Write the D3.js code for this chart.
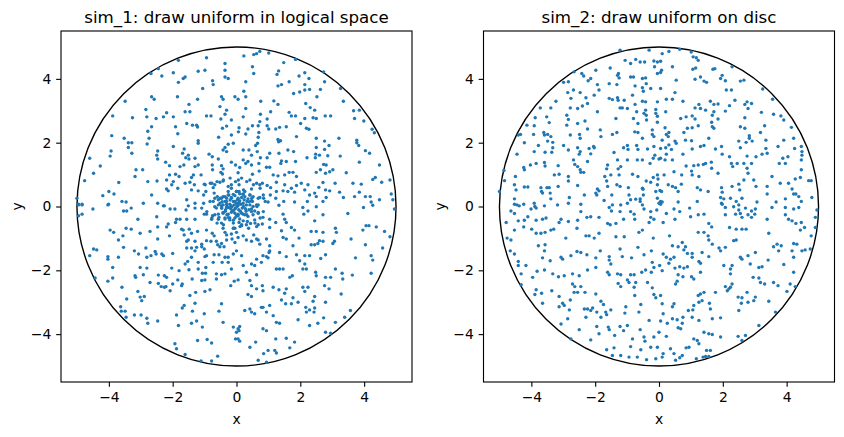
<!DOCTYPE html>
<html>
<head>
<meta charset="utf-8">
<script src="https://cdn.jsdelivr.net/npm/d3@7"></script>
<style>
  body { margin: 0; background: #fff; }
  svg { display: block; }
  text { font-family: "DejaVu Sans", sans-serif; fill: #000; }
</style>
</head>
<body>
<div id="chart"></div>
<script>
// chart values
const titles = ["sim_1: draw uniform in logical space", "sim_2: draw uniform on disc"];
const tickValues = [-4, -2, 0, 2, 4];
const axisDomain = [-5.5, 5.5];
const circleRadius = 5;

// sim_1, one array per quadrant plus the dense core
const sim1UpperLeft = [[-1.82,4.58],[-0.94,4.66],[-0.36,4.48],[-2.45,4.32],[-1.98,4.19],[-1.20,4.24],[-0.99,4.27],[-0.36,4.27],[-0.36,4.06],[-0.26,4.01],[-1.67,4.01],[-1.61,4.06],[-2.34,4.09],[-2.68,4.17],[-1.82,3.89],[-0.75,3.94],[-0.73,3.82],[-1.06,3.70],[-0.47,3.44],[-0.42,3.36],[-0.05,3.44],[-2.66,3.44],[-2.58,3.36],[-1.85,3.44],[-1.22,3.36],[-3.49,3.30],[-1.61,2.97],[-1.46,2.97],[-1.49,3.20],[-2.84,3.04],[-0.52,3.13],[-0.31,3.02],[-2.19,2.94],[-1.98,2.81],[-2.29,2.81],[-2.81,2.81],[-3.26,2.78],[-2.52,2.76],[-3.88,2.84],[-0.94,2.84],[-0.80,2.84],[-0.36,2.89],[-0.49,2.74],[-0.16,2.71],[-1.56,2.60],[-1.38,2.55],[-1.25,2.55],[-1.22,2.49],[-1.91,2.50],[-2.66,2.50],[-0.44,2.45],[-0.31,2.52],[-2.78,2.36],[-1.84,2.28],[-3.91,2.22],[-3.52,2.14],[-2.74,2.14],[-1.20,2.06],[-1.20,1.98],[-0.56,2.17],[-0.16,2.24],[-3.39,2.00],[-3.28,2.00],[-2.80,1.96],[-3.39,1.85],[-0.36,1.85],[-0.42,1.77],[-0.26,1.95],[-0.10,1.98],[-1.98,1.88],[-1.64,1.80],[-3.93,1.74],[-3.96,1.58],[-2.47,1.74],[-2.50,1.61],[-1.69,1.67],[-1.51,1.61],[-0.86,1.64],[-0.76,1.56],[-0.57,1.49],[-0.31,1.72],[-3.28,1.67],[-4.60,1.51],[-2.22,1.39],[-2.47,1.49],[-1.59,1.53],[-1.49,1.49],[-1.30,1.51],[-4.27,1.27],[-4.48,1.04],[-4.76,0.81],[-3.15,1.15],[-3.18,0.94],[-2.94,1.15],[-2.78,0.78],[-2.49,0.80],[-3.69,0.75],[-2.10,1.28],[-1.77,1.25],[-1.65,1.30],[-1.30,1.25],[-1.20,1.30],[-0.76,1.30],[-0.75,1.15],[-0.47,1.28],[-0.42,1.18],[-0.16,1.39],[-0.03,1.30],[-2.10,0.99],[-1.91,1.01],[-1.80,0.94],[-2.19,0.83],[-1.98,0.78],[-1.35,0.99],[-1.41,0.91],[-1.11,0.99],[-0.49,1.07],[-0.44,1.02],[-2.14,0.49],[-2.19,0.55],[-2.03,0.68],[-1.84,0.57],[-1.61,0.73],[-1.46,0.76],[-1.32,0.68],[-1.41,0.52],[-1.01,0.70],[-0.96,0.47],[-0.82,0.73],[-0.73,0.59],[-0.68,0.68],[-0.52,0.76],[-0.42,0.80],[-0.26,0.63],[-0.16,0.68],[-0.03,0.78],[0.00,0.47],[-4.19,0.34],[-4.00,0.47],[-3.84,0.39],[-4.03,0.05],[-3.59,0.16],[-3.46,0.14],[-2.92,0.10],[-2.66,0.36],[-2.29,0.02],[-2.47,0.10],[-1.56,0.21],[-1.30,0.10],[-1.20,0.49],[-0.83,0.16],[-0.68,0.26],[-0.57,0.21],[-0.57,0.05],[-0.42,0.31],[-0.36,0.16],[-0.31,0.07],[-0.24,0.36],[-0.16,0.26],[-0.05,0.16],[-0.70,0.42],[-4.95,0.05],[-4.84,0.05],[-5.00,0.26]];
const sim1UpperRight = [[0.73,4.86],[0.63,4.79],[0.54,4.76],[0.23,4.72],[1.01,4.81],[0.50,4.38],[0.54,4.17],[1.48,4.51],[1.85,4.61],[1.32,4.25],[1.27,4.14],[2.14,4.19],[1.96,4.09],[2.27,4.01],[2.73,4.22],[0.29,3.91],[1.65,3.91],[1.41,3.82],[1.30,3.78],[2.14,3.82],[2.29,3.67],[1.98,3.59],[1.79,3.54],[2.14,3.65],[2.76,3.91],[2.63,3.67],[3.26,3.70],[0.23,3.61],[0.05,3.36],[0.29,3.44],[0.76,3.30],[1.17,3.31],[1.30,3.20],[2.52,3.44],[2.17,3.23],[2.31,3.10],[2.45,3.02],[3.35,3.30],[3.67,3.00],[3.85,3.02],[3.99,2.68],[3.70,2.76],[1.65,2.95],[1.85,2.84],[1.72,2.84],[0.29,3.07],[0.21,2.81],[0.75,2.89],[1.07,2.97],[2.78,2.84],[2.95,2.84],[2.50,2.76],[2.40,2.78],[2.14,2.76],[0.96,2.74],[0.73,2.66],[0.36,2.43],[0.50,2.53],[0.68,2.53],[0.96,2.53],[1.01,2.43],[1.35,2.48],[1.56,2.50],[1.23,2.43],[2.01,2.60],[2.19,2.45],[2.27,2.42],[0.08,2.47],[0.06,2.34],[0.29,2.27],[0.70,2.32],[0.68,2.17],[1.88,2.19],[1.30,2.10],[1.38,2.06],[1.32,2.03],[2.50,2.14],[2.76,2.05],[3.21,2.14],[3.77,2.08],[3.77,2.00],[3.83,1.91],[4.25,2.42],[4.32,2.31],[0.66,1.98],[0.60,1.91],[0.39,1.77],[0.21,1.77],[0.65,1.72],[1.04,1.67],[1.33,1.67],[1.61,1.77],[1.79,1.72],[2.50,1.85],[2.76,1.79],[2.90,1.91],[2.21,1.53],[2.47,1.53],[2.48,1.64],[2.60,1.61],[2.86,1.59],[3.25,1.58],[4.04,1.75],[4.17,1.67],[0.47,1.61],[0.21,1.46],[0.36,1.41],[0.29,1.35],[0.47,1.30],[0.70,1.35],[0.75,1.53],[0.96,1.53],[0.94,1.23],[1.04,1.23],[1.41,1.43],[1.39,1.35],[1.56,1.41],[1.85,1.41],[2.73,1.32],[2.81,1.30],[3.02,1.15],[3.44,1.06],[3.85,1.39],[4.48,1.30],[0.10,1.22],[0.05,1.06],[0.50,1.01],[0.71,1.11],[1.15,0.99],[1.30,0.96],[1.51,0.99],[1.65,1.07],[1.77,1.07],[1.88,0.94],[2.50,1.07],[2.63,1.15],[2.79,1.04],[2.92,1.09],[3.09,0.73],[2.71,0.75],[0.16,0.89],[0.42,0.83],[0.63,0.73],[0.73,0.68],[0.81,0.73],[0.96,0.66],[1.07,0.59],[1.25,0.76],[1.51,0.68],[1.88,0.66],[1.82,0.45],[2.03,0.73],[2.14,0.52],[2.24,0.68],[2.29,0.36],[2.45,0.42],[2.50,0.31],[2.58,0.60],[2.79,0.52],[2.92,0.49],[3.23,0.45],[3.65,0.73],[3.91,0.70],[4.27,0.85],[4.35,0.91],[4.55,0.76],[4.81,0.83],[4.85,0.39],[4.90,0.21],[4.19,0.31],[4.48,0.21],[3.85,0.45],[3.70,0.31],[4.04,0.31],[4.22,0.14],[3.35,0.28],[2.81,0.28],[2.71,0.16],[2.22,0.16],[1.82,0.14],[1.48,0.16],[1.23,0.26],[1.06,0.36],[0.99,0.14],[0.85,0.26],[0.68,0.26],[0.52,0.31],[0.42,0.36],[0.21,0.39],[0.33,0.16],[0.50,0.16],[0.63,0.05],[0.08,0.68],[0.08,0.47],[1.46,0.49],[1.61,0.47],[1.25,0.47],[1.72,0.57]];
const sim1LowerLeft = [[-4.95,0.07],[-4.84,0.07],[-4.01,0.07],[-4.50,-0.08],[-3.54,-0.14],[-3.44,-0.14],[-3.30,-0.05],[-2.26,0.02],[-2.08,-0.08],[-1.93,-0.08],[-1.51,0.02],[-1.58,-0.11],[-1.30,-0.05],[-1.09,-0.05],[-0.68,-0.01],[-0.47,0.02],[-0.31,-0.03],[-0.16,0.02],[-0.05,-0.08],[-4.95,-0.29],[-4.84,-0.24],[-3.09,-0.40],[-2.50,-0.32],[-1.88,-0.40],[-1.77,-0.40],[-1.56,-0.40],[-1.30,-0.40],[-1.01,-0.24],[-0.94,-0.24],[-0.75,-0.29],[-0.57,-0.24],[-0.42,-0.19],[-0.26,-0.24],[-0.10,-0.14],[0.00,-0.29],[-0.78,-0.40],[-0.57,-0.40],[-0.36,-0.36],[-0.21,-0.36],[-0.10,-0.43],[-3.96,-0.74],[-3.85,-0.81],[-3.46,-0.68],[-3.30,-0.71],[-3.56,-0.92],[-3.70,-1.05],[-3.02,-0.84],[-2.71,-0.78],[-2.47,-0.64],[-2.19,-0.64],[-2.14,-0.55],[-1.91,-0.50],[-1.72,-0.71],[-1.67,-0.74],[-1.48,-0.71],[-1.64,-0.89],[-1.41,-0.84],[-1.22,-0.78],[-0.94,-0.74],[-0.76,-0.84],[-0.70,-0.92],[-0.42,-0.68],[-0.10,-0.68],[-0.36,-0.81],[-0.31,-0.89],[-0.16,-0.86],[0.00,-0.81],[-2.47,-1.02],[-2.10,-0.92],[-1.56,-1.09],[-1.51,-1.05],[-1.30,-1.09],[-1.09,-1.18],[-0.94,-1.07],[-0.80,-1.09],[-0.63,-1.09],[-0.59,-1.20],[-0.52,-1.26],[-0.47,-1.16],[-0.39,-1.26],[-0.31,-1.05],[-0.14,-1.02],[-0.05,-1.13],[-4.48,-1.33],[-4.38,-1.36],[-4.60,-1.54],[-4.03,-1.57],[-4.03,-1.65],[-3.70,-1.59],[-3.54,-1.28],[-3.20,-1.39],[-3.07,-1.49],[-2.84,-1.30],[-2.81,-1.59],[-2.68,-1.54],[-2.55,-1.41],[-2.52,-1.49],[-2.34,-1.49],[-2.29,-1.54],[-2.00,-1.47],[-1.56,-1.30],[-1.41,-1.30],[-1.30,-1.39],[-1.25,-1.28],[-1.09,-1.26],[-1.01,-1.33],[-1.41,-1.59],[-0.99,-1.57],[-0.94,-1.54],[-0.70,-1.51],[-0.55,-1.51],[-0.36,-1.59],[-0.26,-1.59],[-0.10,-1.49],[0.00,-1.39],[-0.26,-1.75],[-0.45,-1.75],[-0.73,-1.75],[-1.20,-1.75],[-1.53,-1.72],[-1.61,-1.80],[-3.88,-1.91],[-2.81,-1.93],[-3.02,-1.91],[-2.45,-2.15],[-2.26,-2.17],[-2.19,-2.22],[-2.03,-1.93],[-1.80,-2.01],[-1.49,-1.98],[-1.20,-1.96],[-1.07,-2.09],[-0.97,-2.09],[-0.96,-1.91],[-0.63,-2.11],[-0.47,-2.14],[-0.36,-2.11],[-0.16,-1.96],[-4.43,-2.24],[-4.03,-2.34],[-3.88,-2.24],[-3.18,-2.17],[-3.16,-2.22],[-2.92,-2.14],[-2.71,-2.38],[-2.45,-2.41],[-2.36,-2.51],[-2.21,-2.51],[-2.00,-2.43],[-1.84,-2.30],[-1.70,-2.43],[-1.72,-2.48],[-1.39,-2.27],[-1.09,-2.32],[-0.99,-2.30],[-0.63,-2.27],[-0.18,-2.48],[-0.07,-2.34],[-3.59,-2.53],[-3.09,-2.66],[-3.02,-2.84],[-2.89,-2.82],[-2.97,-2.95],[-3.44,-2.90],[-2.26,-2.53],[-2.08,-2.64],[-1.46,-2.79],[-1.28,-2.69],[-0.99,-2.66],[-0.83,-2.61],[-3.63,-3.14],[-3.61,-3.28],[-3.49,-3.28],[-3.46,-3.47],[-3.20,-3.40],[-2.99,-3.40],[-2.81,-3.50],[-2.78,-3.66],[-2.47,-3.59],[-1.88,-3.40],[-1.70,-3.18],[-1.64,-3.10],[-1.38,-3.28],[-1.30,-3.03],[-1.01,-3.36],[-0.55,-3.28],[-0.47,-3.05],[-1.82,-3.73],[-1.41,-3.66],[-1.25,-3.59],[-1.07,-3.78],[-0.42,-3.63],[-0.10,-3.78],[0.00,-3.94],[-0.03,-4.15],[-1.22,-4.20],[-0.92,-4.17],[-0.78,-4.28],[-1.93,-4.30],[-1.88,-4.46],[-1.61,-4.64],[-1.11,-4.84],[-0.78,-4.84],[-0.59,-4.69]];
const sim1LowerRight = [[1.33,0.04],[2.08,-0.03],[2.24,-0.14],[2.50,-0.01],[3.49,-0.22],[3.98,-0.03],[4.27,0.04],[4.95,-0.08],[0.05,-0.29],[0.21,-0.24],[0.47,-0.08],[0.57,-0.14],[0.68,-0.19],[0.83,-0.34],[1.04,-0.40],[1.23,-0.50],[1.46,-0.24],[1.51,-0.40],[1.56,-0.50],[2.11,-0.24],[2.45,-0.45],[2.71,-0.26],[0.08,-0.50],[0.16,-0.60],[0.31,-0.57],[0.44,-0.53],[0.68,-0.57],[0.81,-0.55],[1.04,-0.66],[1.41,-0.76],[1.46,-0.97],[1.56,-1.02],[1.72,-0.66],[1.82,-0.74],[1.96,-0.99],[2.34,-0.78],[2.50,-0.78],[2.71,-0.81],[3.10,-0.68],[3.13,-0.81],[3.02,-1.16],[3.07,-1.09],[2.60,-1.07],[2.34,-1.20],[2.45,-1.20],[2.55,-1.16],[2.71,-1.09],[3.59,-1.02],[3.96,-0.74],[4.06,-0.60],[4.15,-0.60],[4.38,-0.64],[4.64,-0.78],[4.81,-0.95],[4.04,-1.20],[4.58,-1.30],[0.05,-0.97],[0.21,-0.92],[0.31,-1.05],[0.47,-1.09],[0.54,-0.89],[0.63,-1.02],[0.68,-1.05],[0.73,-1.18],[0.94,-1.02],[1.04,-1.23],[1.02,-1.44],[1.35,-1.44],[1.56,-1.57],[1.77,-1.23],[1.88,-1.51],[1.98,-1.70],[2.14,-1.54],[2.29,-1.54],[2.64,-1.63],[2.79,-1.51],[1.04,-1.39],[0.83,-1.54],[0.94,-1.57],[0.99,-1.61],[0.16,-1.54],[0.21,-1.85],[0.47,-1.80],[0.57,-1.85],[0.63,-1.65],[0.78,-1.75],[0.63,-2.14],[0.31,-2.06],[0.05,-2.30],[0.42,-2.32],[0.47,-2.48],[0.63,-2.58],[0.81,-2.48],[0.83,-2.64],[0.36,-2.76],[0.47,-2.82],[1.25,-1.96],[1.35,-1.96],[1.46,-1.96],[1.67,-2.22],[1.75,-2.17],[2.14,-1.80],[2.08,-1.96],[2.19,-1.96],[2.48,-2.06],[2.50,-2.17],[2.79,-2.22],[2.95,-2.22],[3.10,-1.96],[3.31,-2.09],[3.33,-2.27],[3.63,-2.15],[3.73,-1.61],[4.22,-1.54],[4.27,-1.68],[4.22,-2.09],[1.15,-2.53],[1.33,-2.61],[1.56,-2.58],[1.51,-2.72],[1.41,-2.93],[1.54,-3.05],[1.77,-2.86],[1.93,-3.00],[1.72,-3.05],[2.08,-2.53],[2.14,-2.66],[2.24,-2.53],[2.45,-2.82],[2.40,-2.97],[2.76,-2.48],[2.79,-3.00],[2.90,-2.58],[3.28,-2.74],[0.26,-3.26],[0.42,-3.21],[0.47,-3.31],[0.57,-3.36],[0.78,-3.16],[0.83,-3.16],[0.94,-3.31],[1.04,-3.10],[0.83,-3.83],[1.15,-3.42],[1.25,-3.63],[1.35,-3.66],[2.17,-3.16],[2.19,-3.31],[2.29,-3.24],[2.45,-3.18],[2.43,-3.31],[2.55,-3.66],[2.73,-3.49],[3.10,-3.63],[3.39,-3.47],[3.57,-3.26],[2.29,-3.73],[1.93,-3.55],[0.05,-3.83],[0.10,-3.76],[0.08,-3.89],[0.05,-4.15],[0.10,-4.22],[0.42,-4.41],[0.60,-4.25],[0.94,-3.89],[1.23,-4.15],[1.56,-4.13],[1.82,-4.25],[1.67,-4.43],[1.20,-4.51],[1.25,-4.59],[0.99,-4.51],[0.85,-4.61],[0.68,-4.82],[0.94,-4.88],[2.79,-3.94],[2.95,-3.97]];
const sim1Core = [[-0.47,0.26],[-0.36,0.31],[-0.26,0.36],[-0.16,0.28],[-0.05,0.34],[0.05,0.26],[0.16,0.28],[0.26,0.31],[0.36,0.24],[0.47,0.18],[-0.52,0.10],[-0.42,0.05],[-0.31,0.16],[-0.21,0.07],[-0.10,0.16],[0.00,0.10],[0.05,0.03],[0.10,0.18],[0.21,0.10],[0.31,0.05],[0.42,0.05],[0.52,0.00],[-0.47,-0.05],[-0.34,-0.10],[-0.24,-0.03],[-0.14,0.00],[-0.03,-0.05],[0.07,-0.10],[0.18,-0.05],[0.28,-0.07],[0.39,-0.10],[0.47,-0.16],[-0.42,-0.21],[-0.28,-0.26],[-0.16,-0.18],[-0.05,-0.21],[0.05,-0.24],[0.16,-0.21],[0.26,-0.26],[0.36,-0.31],[0.52,-0.26],[-0.36,-0.39],[-0.21,-0.42],[-0.05,-0.36],[0.10,-0.39],[0.21,-0.45],[0.34,-0.47],[-0.55,-0.34],[0.57,-0.42],[-0.26,0.47],[0.00,0.47],[0.26,0.47],[-0.63,-0.05],[0.68,0.05],[-0.10,-0.52],[0.16,-0.57],[0.02,0.00],[-0.07,0.05],[0.14,0.07],[0.03,0.21],[-0.18,-0.07],[0.24,0.21],[-0.31,0.26],[0.42,0.36],[-0.47,-0.52],[0.68,-0.21],[-0.60,0.31],[-0.73,0.16],[0.73,0.28],[-0.16,0.57],[0.47,0.55],[-0.68,-0.26],[0.63,-0.63],[-0.05,-0.68],[0.08,0.12],[-0.12,-0.12],[0.12,-0.15],[-0.20,0.20],[0.30,-0.15],[-0.35,-0.15],[0.10,0.40],[-0.10,0.38],[0.22,0.00],[-0.30,0.00],[0.00,-0.30],[0.40,0.15],[-0.45,0.15],[0.20,0.38],[-0.25,-0.35],[-0.98,0.68],[-0.77,0.73],[-0.61,0.78],[-0.41,0.83],[-0.20,0.89],[0.06,0.83],[0.32,0.78],[0.53,0.68],[0.74,0.57],[0.84,0.36],[0.90,0.16],[0.84,-0.16],[0.74,-0.36],[0.58,-0.52],[0.38,-0.68],[0.11,-0.63],[-0.09,-0.68],[-0.41,-0.57],[-0.61,-0.52],[-0.77,-0.36],[-0.93,-0.16],[-1.03,0.10],[-1.03,0.36],[-0.51,0.26],[0.48,0.26],[0.32,-0.26],[-0.30,-0.26],[-0.46,-0.05],[0.64,0.00],[0.22,0.52]];

// sim_2, one array per quadrant
const sim2UpperLeft = [[-1.22,4.90],[-0.31,4.90],[-1.06,4.58],[-0.89,4.48],[-0.73,4.61],[-0.59,4.53],[-0.45,4.53],[-0.16,4.56],[-0.05,4.53],[-0.14,4.38],[-1.53,4.34],[-1.30,4.11],[-1.25,4.03],[-1.27,4.17],[-0.89,4.06],[-0.80,4.06],[-0.52,4.01],[-0.40,3.85],[-0.42,4.03],[-0.05,4.17],[-2.66,4.22],[-2.42,4.17],[-2.36,4.09],[-1.98,4.27],[-2.22,3.94],[-2.14,4.01],[-2.99,3.89],[-2.84,3.91],[-1.56,3.85],[-1.32,3.82],[-0.75,3.78],[-0.52,3.72],[-0.49,3.61],[-0.26,3.70],[-1.93,3.82],[-1.88,3.65],[-2.68,3.65],[-2.86,3.57],[-2.47,3.57],[-3.23,3.30],[-2.76,3.39],[-2.29,3.41],[-2.03,3.49],[-1.56,3.39],[-1.46,3.35],[-1.30,3.41],[-1.28,3.33],[-1.09,3.33],[-0.83,3.49],[-0.52,3.30],[-0.42,3.28],[-0.05,3.28],[-0.75,3.20],[-3.72,3.09],[-3.39,3.09],[-2.78,3.09],[-2.55,3.07],[-2.24,3.23],[-2.40,3.15],[-1.93,2.97],[-1.22,3.09],[-1.15,3.09],[-0.99,3.07],[-0.70,2.97],[-0.42,3.02],[-0.10,3.04],[-0.47,2.92],[-0.40,2.86],[-0.10,2.92],[-0.05,2.83],[-0.39,2.71],[-3.88,2.78],[-3.52,2.81],[-2.89,2.86],[-2.84,2.73],[-2.32,2.68],[-1.35,2.76],[-0.80,2.76],[-0.66,2.60],[-0.05,2.64],[-3.44,2.63],[-4.14,2.55],[-3.91,2.53],[-2.89,2.55],[-2.55,2.60],[-2.24,2.43],[-1.84,2.40],[-1.32,2.32],[-0.76,2.34],[-0.66,2.32],[-0.21,2.40],[-0.16,2.19],[-0.21,2.26],[-4.34,2.26],[-4.41,2.24],[-3.93,2.26],[-3.61,2.32],[-3.59,2.24],[-3.49,2.26],[-3.39,2.19],[-2.78,2.24],[-2.49,2.26],[-2.47,2.14],[-1.82,2.19],[-1.46,2.26],[-0.52,2.14],[-0.70,1.91],[-4.22,2.00],[-3.78,1.91],[-3.49,2.05],[-3.33,2.01],[-3.33,1.84],[-2.99,1.91],[-2.55,1.84],[-2.47,1.72],[-2.50,1.64],[-2.19,1.82],[-2.05,1.88],[-2.03,1.84],[-2.14,1.65],[-2.84,1.77],[-3.36,1.70],[-3.57,1.70],[-3.91,1.72],[-4.45,1.64],[-1.41,1.69],[-1.11,1.84],[-0.99,1.91],[-0.97,1.79],[-0.66,1.79],[-0.36,1.80],[-0.16,1.88],[-0.13,1.61],[-4.03,1.30],[-3.85,1.35],[-3.59,1.38],[-3.57,1.27],[-3.16,1.28],[-2.68,1.46],[-2.64,1.32],[-2.47,1.15],[-2.36,1.07],[-2.24,1.41],[-2.55,1.25],[-1.61,1.30],[-1.64,1.18],[-1.30,1.46],[-1.20,1.25],[-0.99,1.46],[-0.68,1.46],[-0.52,1.46],[-0.18,1.51],[0.00,1.49],[-0.28,1.35],[-4.24,1.22],[-4.22,1.15],[-4.50,0.94],[-4.84,0.81],[-4.86,1.13],[-3.28,0.99],[-3.13,1.01],[-2.84,0.94],[-2.84,0.80],[-2.45,1.07],[-1.70,0.94],[-1.64,0.80],[-1.51,0.99],[-1.28,1.18],[-1.25,0.99],[-0.83,1.01],[-0.66,0.94],[-0.40,0.80],[-0.26,0.76],[-0.05,0.99],[-0.03,0.86],[-0.18,0.91],[-0.05,0.68],[0.03,0.50],[-4.53,0.68],[-4.22,0.61],[-4.11,0.61],[-3.70,0.59],[-3.51,0.59],[-3.44,0.59],[-3.16,0.63],[-2.55,0.66],[-1.93,0.55],[-1.88,0.49],[-1.61,0.63],[-1.32,0.68],[-1.22,0.63],[-0.96,0.59],[-0.52,0.57],[-0.50,0.54],[-0.10,0.47],[-4.53,0.24],[-4.53,0.07],[-4.45,0.05],[-5.00,0.47],[-4.48,0.52],[-3.68,0.47],[-3.65,0.42],[-3.41,0.42],[-3.39,0.24],[-2.81,0.28],[-2.84,0.10],[-3.91,0.10],[-3.89,0.00],[-3.18,0.05],[-2.34,0.36],[-1.98,0.42],[-1.95,0.36],[-1.72,0.19],[-1.48,0.36],[-0.94,0.36],[-0.89,0.21],[-0.73,0.23],[-0.59,0.24],[-0.49,0.36],[-0.52,0.05],[-0.59,0.16],[-1.46,0.05],[-1.20,0.05],[-0.99,0.10],[-0.05,0.26],[0.00,0.10]];
const sim2UpperRight = [[0.10,4.79],[0.31,4.86],[0.65,4.93],[1.01,4.84],[1.07,4.69],[1.17,4.66],[1.23,4.58],[0.05,4.55],[0.42,4.38],[0.08,4.27],[0.05,4.20],[1.06,4.30],[1.15,4.34],[1.69,4.30],[1.75,4.32],[2.29,4.38],[1.93,4.01],[1.98,4.11],[2.08,3.94],[2.55,3.93],[2.66,3.96],[3.25,3.68],[3.56,3.36],[1.13,3.99],[1.30,4.06],[1.41,3.93],[1.49,3.89],[0.54,3.96],[0.05,3.70],[0.50,3.57],[0.23,3.36],[0.42,3.36],[0.75,3.30],[1.25,3.20],[1.13,3.09],[1.30,3.07],[1.61,3.30],[1.72,3.20],[1.85,3.21],[2.21,3.16],[2.38,3.33],[2.69,3.20],[2.76,3.28],[2.90,3.23],[2.79,3.07],[2.11,3.65],[2.27,3.65],[0.21,2.97],[0.68,2.76],[0.85,2.81],[1.04,2.84],[1.13,2.74],[1.46,3.02],[1.72,2.97],[1.67,2.86],[1.85,2.74],[1.65,2.64],[1.67,2.50],[1.72,2.45],[2.08,2.99],[2.69,2.78],[3.21,2.95],[3.59,2.89],[3.82,2.84],[3.91,2.71],[0.19,2.47],[0.78,2.32],[0.89,2.45],[1.04,2.47],[1.23,2.53],[1.56,2.14],[2.55,2.50],[2.69,2.45],[3.18,2.32],[3.31,2.53],[4.15,2.48],[4.22,2.14],[3.91,2.08],[0.10,2.08],[0.23,2.26],[0.31,2.32],[0.29,2.19],[0.31,1.93],[0.21,1.84],[0.39,1.79],[0.50,2.05],[0.05,1.82],[0.05,1.51],[0.23,1.64],[1.02,2.06],[1.41,1.91],[1.77,1.80],[1.96,1.88],[1.98,1.64],[2.21,1.56],[2.50,2.05],[2.73,2.01],[2.83,2.22],[2.83,2.14],[2.92,2.05],[2.55,1.84],[2.76,1.58],[3.04,1.56],[3.23,1.64],[3.39,1.67],[3.35,1.82],[3.35,2.08],[3.73,1.88],[4.25,1.82],[4.46,1.88],[4.48,1.72],[4.48,1.61],[3.88,1.51],[4.04,1.56],[3.77,1.35],[3.96,1.35],[4.46,1.46],[0.85,1.27],[1.09,1.28],[1.23,1.30],[1.39,1.32],[1.46,1.35],[1.64,1.39],[1.65,1.20],[1.85,1.04],[2.27,1.35],[2.31,1.25],[2.45,1.35],[2.66,1.35],[2.76,1.20],[2.90,1.35],[2.79,1.04],[3.54,0.94],[4.46,1.15],[4.27,0.86],[4.43,0.91],[4.69,0.81],[4.77,0.81],[0.16,0.99],[0.71,0.99],[1.02,1.11],[1.04,0.99],[1.25,0.94],[0.08,0.47],[0.29,0.68],[0.42,0.63],[0.52,0.59],[0.60,0.47],[0.70,0.70],[1.20,0.59],[1.30,0.52],[1.54,0.47],[1.96,0.59],[1.98,0.45],[2.29,0.63],[2.50,0.70],[2.53,0.52],[2.66,0.83],[2.97,0.83],[3.04,0.63],[3.39,0.63],[3.39,0.39],[3.80,0.73],[4.06,0.73],[4.17,0.55],[4.22,0.39],[4.29,0.39],[4.79,0.28],[0.05,0.16],[0.10,0.14],[0.60,0.14],[1.20,0.16],[1.93,0.28],[2.03,0.24],[1.96,0.10],[2.24,0.26],[2.42,0.16],[2.50,0.05],[2.60,0.26],[3.07,0.14],[3.67,0.14],[3.96,0.24],[4.38,0.31],[4.46,0.16],[0.19,1.46],[0.42,1.46],[0.75,1.64],[1.04,1.80],[1.30,1.88],[0.54,1.98],[0.83,2.08],[0.47,1.09]];
const sim2LowerLeft = [[-4.64,-0.14],[-4.53,-0.22],[-4.38,0.02],[-4.24,0.07],[-4.01,-0.08],[-3.85,-0.05],[-3.59,0.02],[-2.45,0.07],[-1.56,-0.03],[-1.49,-0.14],[-1.22,-0.16],[-0.89,-0.16],[-0.76,-0.40],[-0.47,-0.08],[-0.26,-0.16],[-0.07,-0.11],[-0.16,-0.40],[-0.26,-0.34],[-4.79,-0.50],[-4.41,-0.45],[-4.22,-0.43],[-4.11,-0.32],[-3.85,-0.43],[-3.65,-0.40],[-3.54,-0.36],[-3.07,-0.40],[-2.84,-0.47],[-3.13,-0.50],[-2.55,-0.43],[-2.45,-0.16],[-2.26,-0.34],[-2.14,-0.32],[-1.88,-0.34],[-1.61,-0.53],[-1.53,-0.57],[-1.35,-0.53],[-1.11,-0.40],[-0.78,-0.24],[-0.31,-0.50],[-4.53,-0.74],[-4.24,-0.64],[-3.99,-0.71],[-3.85,-0.84],[-3.70,-0.84],[-3.57,-0.81],[-3.39,-0.74],[-3.30,-0.71],[-2.92,-0.99],[-2.57,-0.68],[-2.29,-0.92],[-2.19,-0.92],[-2.03,-0.99],[-1.88,-0.84],[-1.35,-0.95],[-1.09,-0.95],[-0.63,-0.81],[-0.52,-0.74],[-0.18,-0.99],[-4.76,-0.99],[-4.64,-1.05],[-4.66,-1.39],[-4.53,-1.49],[-3.78,-1.23],[-3.57,-1.20],[-3.59,-1.39],[-3.65,-1.61],[-3.41,-1.70],[-3.07,-1.59],[-3.02,-1.65],[-2.76,-1.54],[-2.57,-1.41],[-2.45,-1.44],[-2.26,-1.51],[-1.98,-1.61],[-1.84,-1.39],[-1.56,-1.57],[-1.56,-1.68],[-1.51,-1.80],[-1.22,-1.33],[-1.15,-1.57],[-0.86,-1.61],[-0.66,-1.28],[-0.47,-1.51],[-0.24,-1.39],[-0.21,-1.75],[-0.16,-1.91],[-0.24,-2.06],[-4.41,-1.72],[-4.41,-1.85],[-4.32,-2.11],[-4.17,-1.85],[-3.96,-2.22],[-3.82,-2.03],[-3.59,-1.99],[-3.33,-2.11],[-3.15,-2.20],[-2.97,-2.17],[-2.71,-2.11],[-2.50,-2.17],[-2.24,-1.99],[-1.98,-1.91],[-1.61,-2.06],[-1.56,-2.14],[-1.30,-2.11],[-1.20,-2.14],[-0.89,-2.14],[-0.78,-2.14],[-0.54,-2.06],[-0.42,-1.99],[-0.99,-2.30],[-0.94,-2.38],[-0.73,-2.38],[-0.36,-2.38],[-0.21,-2.55],[-4.32,-2.45],[-3.85,-2.61],[-3.89,-2.76],[-3.68,-2.72],[-3.65,-3.03],[-3.36,-2.64],[-3.13,-2.82],[-3.02,-3.03],[-2.97,-3.10],[-2.78,-2.93],[-2.71,-2.43],[-2.64,-2.51],[-2.66,-2.69],[-2.55,-2.69],[-2.45,-2.51],[-2.32,-2.69],[-1.98,-2.74],[-1.82,-2.97],[-1.74,-3.07],[-2.08,-3.18],[-2.34,-3.21],[-2.24,-3.21],[-2.14,-3.26],[-2.81,-3.24],[-3.13,-3.14],[-2.86,-3.52],[-2.29,-3.47],[-1.95,-3.31],[-1.67,-3.31],[-1.64,-3.39],[-1.82,-3.47],[-1.51,-3.24],[-1.28,-2.41],[-1.20,-2.51],[-0.78,-2.53],[-0.76,-2.79],[-0.57,-3.07],[-0.16,-2.76],[-0.10,-2.86],[-1.04,-3.14],[-1.07,-3.34],[-0.99,-3.73],[-0.63,-3.31],[-0.31,-3.57],[-3.07,-3.68],[-2.50,-3.86],[-1.95,-3.76],[-1.59,-3.78],[-1.56,-3.86],[-1.39,-4.04],[-1.22,-3.76],[-1.11,-3.89],[-0.83,-4.15],[-0.89,-4.39],[-0.59,-3.86],[-0.47,-4.09],[-0.44,-4.22],[-0.16,-4.09],[-0.05,-4.41],[-0.26,-4.41],[-0.57,-4.49],[-1.41,-4.43],[-1.64,-4.49],[-1.46,-4.67],[-1.20,-4.67],[-0.94,-4.72],[-0.68,-4.72],[-0.39,-4.80],[-0.10,-4.77],[-2.76,-4.15],[-2.14,-4.18],[-1.88,-3.99]];
const sim2LowerRight = [[0.05,0.07],[0.47,-0.08],[0.65,-0.16],[0.96,-0.05],[1.98,0.07],[2.08,-0.03],[2.34,-0.01],[2.50,-0.11],[2.71,-0.05],[2.90,-0.14],[3.02,-0.08],[3.54,-0.03],[3.96,-0.03],[4.22,-0.08],[4.38,-0.03],[0.23,-0.22],[0.99,-0.32],[1.23,-0.26],[1.41,-0.24],[2.08,-0.26],[2.40,-0.24],[2.55,-0.22],[2.60,-0.34],[2.79,-0.26],[2.90,-0.34],[3.00,-0.24],[3.39,-0.40],[3.96,-0.26],[4.06,-0.40],[4.17,-0.45],[4.46,-0.50],[4.90,-0.34],[4.95,-0.11],[0.13,-0.50],[0.50,-0.40],[1.56,-0.53],[1.65,-0.64],[2.21,-0.66],[2.42,-0.71],[2.60,-0.71],[2.73,-0.71],[3.44,-0.84],[4.29,-0.53],[4.43,-0.74],[4.56,-0.66],[4.90,-0.66],[1.23,-0.81],[1.41,-0.81],[1.54,-0.92],[1.56,-1.05],[1.67,-1.18],[1.35,-1.44],[0.33,-0.92],[0.73,-1.13],[0.83,-1.26],[1.04,-1.47],[0.89,-1.47],[1.04,-1.59],[0.42,-1.23],[0.60,-1.26],[0.78,-1.36],[0.13,-1.49],[0.23,-1.59],[0.36,-1.65],[0.47,-1.59],[1.25,-1.72],[1.30,-1.78],[1.56,-1.57],[1.88,-1.30],[1.93,-1.39],[2.08,-1.28],[2.34,-1.07],[2.42,-1.05],[2.55,-1.59],[2.60,-1.65],[2.79,-1.54],[2.86,-1.80],[3.02,-1.44],[3.13,-1.91],[3.23,-1.89],[3.42,-1.68],[3.59,-1.26],[3.70,-1.18],[3.83,-1.23],[3.75,-1.39],[3.91,-1.82],[4.22,-1.59],[4.22,-2.06],[4.22,-1.16],[4.32,-1.18],[4.17,-1.39],[4.48,-1.39],[4.58,-1.36],[4.74,-1.33],[4.77,-0.92],[0.50,-1.93],[0.65,-1.89],[0.78,-1.93],[0.89,-1.89],[0.02,-1.85],[0.10,-2.01],[0.31,-1.78],[0.60,-2.14],[0.57,-2.34],[0.52,-2.43],[0.75,-2.20],[1.02,-2.20],[1.09,-2.27],[1.30,-2.06],[1.30,-2.74],[1.41,-2.69],[1.35,-2.95],[1.25,-3.00],[1.23,-2.79],[1.58,-3.03],[1.77,-2.69],[2.03,-1.85],[2.24,-1.96],[2.24,-2.11],[2.29,-1.85],[2.08,-2.51],[2.14,-2.64],[2.19,-2.58],[2.24,-2.53],[2.29,-2.43],[2.48,-2.84],[2.60,-2.86],[2.58,-3.03],[2.50,-3.26],[2.76,-2.69],[2.79,-3.00],[2.95,-2.22],[3.02,-2.84],[2.97,-2.95],[3.13,-2.24],[3.18,-2.38],[3.31,-2.43],[3.44,-2.97],[3.59,-2.38],[3.73,-2.48],[4.01,-2.66],[4.11,-2.43],[4.27,-2.51],[3.65,-3.31],[3.13,-3.73],[2.71,-4.04],[2.60,-4.20],[2.48,-4.07],[1.93,-3.49],[1.61,-3.21],[1.67,-3.52],[1.93,-4.09],[1.41,-3.94],[1.56,-3.99],[1.67,-4.01],[1.25,-4.30],[1.09,-4.15],[1.20,-4.20],[0.94,-4.41],[0.85,-4.43],[1.49,-4.51],[1.61,-4.51],[1.46,-4.70],[1.56,-4.70],[0.05,-2.79],[0.10,-3.05],[0.13,-3.36],[0.05,-3.59],[0.26,-3.66],[0.42,-3.52],[0.57,-3.55],[0.60,-3.80],[0.68,-3.83],[0.73,-3.66],[0.75,-3.47],[0.47,-3.05],[0.42,-3.14],[0.92,-3.26],[1.06,-3.24],[1.09,-3.10],[0.00,-3.94],[0.23,-4.07],[0.36,-4.46],[0.13,-4.61],[0.47,-4.61],[0.52,-4.82],[0.65,-4.74],[0.73,-4.67],[1.17,-4.77],[1.38,-4.72],[0.10,-4.72],[1.04,-3.47],[1.25,-3.57]];

const panels = [
  {title: titles[0], points: [].concat(sim1UpperLeft, sim1UpperRight, sim1LowerLeft, sim1LowerRight, sim1Core)},
  {title: titles[1], points: [].concat(sim2UpperLeft, sim2UpperRight, sim2LowerLeft, sim2LowerRight)}
];

const width = 844, height = 437;
const plotTop = 31, plotSize = 351;
const plotLefts = [61, 483.5];
const px = 100 / 72; // matplotlib points to pixels at 100 dpi
const dotColor = "#1f77b4";

const svg = d3.select("#chart").append("svg")
  .attr("width", width)
  .attr("height", height);

const fmt = d => d < 0 ? "\u2212" + Math.abs(d) : String(d);

panels.forEach((panel, i) => {
  const left = plotLefts[i];
  const x = d3.scaleLinear().domain(axisDomain).range([left, left + plotSize]);
  const y = d3.scaleLinear().domain(axisDomain).range([plotTop + plotSize, plotTop]);
  const g = svg.append("g");

  // boundary circle
  g.append("circle")
    .attr("cx", x(0))
    .attr("cy", y(0))
    .attr("r", x(circleRadius) - x(0))
    .attr("fill", "none")
    .attr("stroke", "#000")
    .attr("stroke-width", 1 * px);

  g.append("g").selectAll("circle")
    .data(panel.points)
    .enter()
    .append("circle")
      .attr("cx", d => x(d[0]))
      .attr("cy", d => y(d[1]))
      .attr("r", 1.7)
      .attr("fill", dotColor);

  // axes
  const xAxis = g.append("g")
    .attr("transform", `translate(0,${plotTop + plotSize})`)
    .call(d3.axisBottom(x).tickValues(tickValues).tickFormat(fmt).tickSize(3.5 * px).tickPadding(3.5 * px));
  const yAxis = g.append("g")
    .attr("transform", `translate(${left},0)`)
    .call(d3.axisLeft(y).tickValues(tickValues).tickFormat(fmt).tickSize(3.5 * px).tickPadding(3.5 * px));
  [xAxis, yAxis].forEach(a => {
    a.select(".domain").remove();
    a.selectAll("line").attr("stroke", "#000").attr("stroke-width", 0.8 * px);
    a.selectAll("text").attr("font-size", 10 * px).attr("font-family", "DejaVu Sans").attr("fill", "#000");
  });

  // frame
  g.append("rect")
    .attr("x", left)
    .attr("y", plotTop)
    .attr("width", plotSize)
    .attr("height", plotSize)
    .attr("fill", "none")
    .attr("stroke", "#000")
    .attr("stroke-width", 0.8 * px);

  // title and axis labels
  g.append("text")
    .attr("x", left + plotSize / 2)
    .attr("y", plotTop - 6 * px)
    .attr("text-anchor", "middle")
    .attr("font-size", 12 * px)
    .text(panel.title);

  g.append("text")
    .attr("x", left + plotSize / 2)
    .attr("y", 424)
    .attr("text-anchor", "middle")
    .attr("font-size", 10 * px)
    .text("x");

  g.append("text")
    .attr("transform", `translate(${left - 39},${plotTop + plotSize / 2}) rotate(-90)`)
    .attr("text-anchor", "middle")
    .attr("font-size", 10 * px)
    .text("y");
});
</script>
</body>
</html>
